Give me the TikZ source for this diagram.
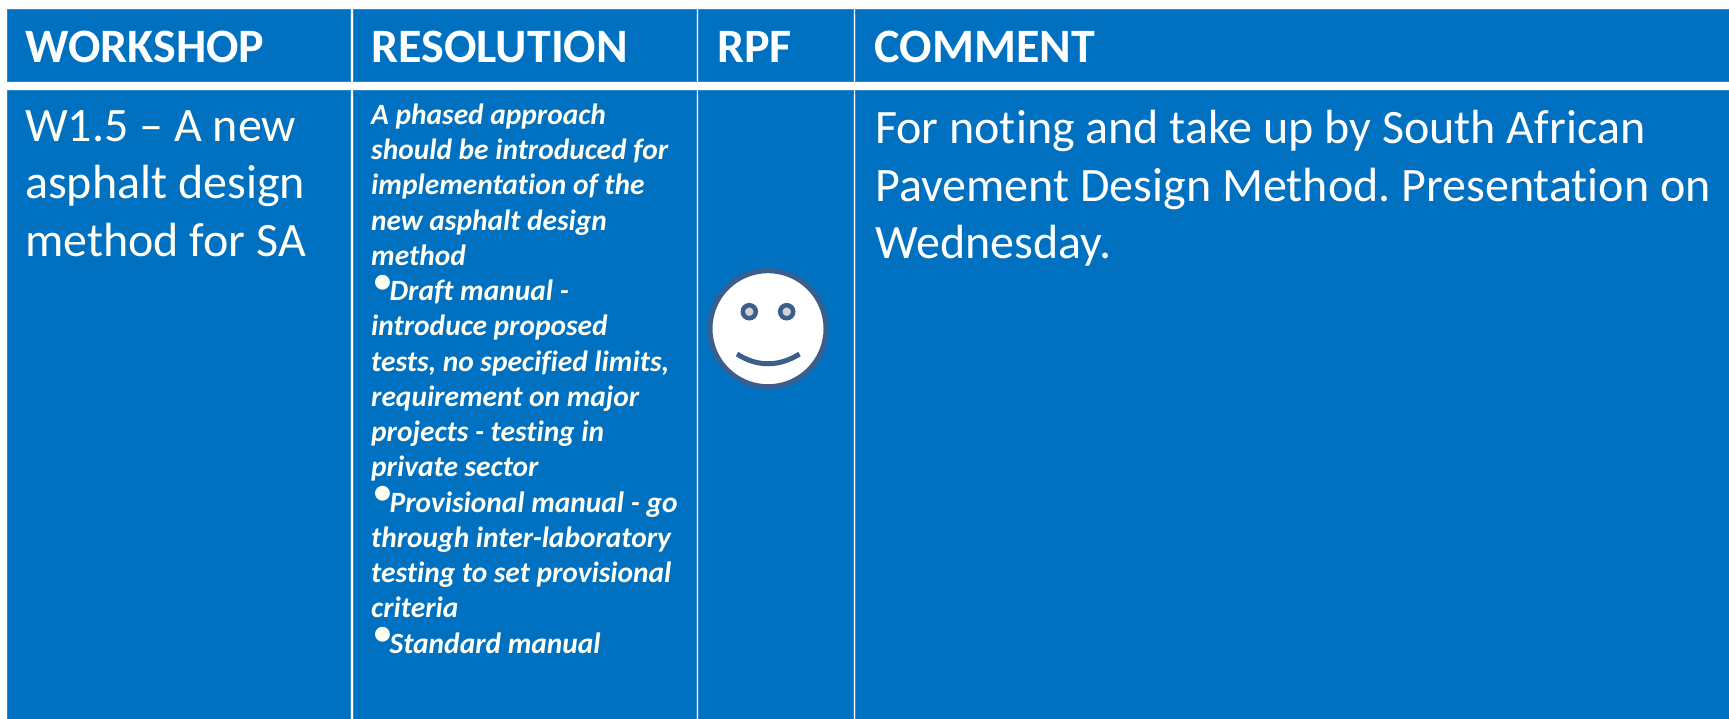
\documentclass[tikz,border=0pt]{standalone}
\usepackage{fontspec}
\setmainfont{Carlito}[Ligatures=CommonOff]
\definecolor{cellblue}{HTML}{0070C0}
\definecolor{celledge}{HTML}{2E88CC}
\definecolor{smile}{HTML}{3B5E8C}
\definecolor{eyegrey}{HTML}{D2D2D2}
\definecolor{cream}{HTML}{FFFFF4}
\newcommand{\bul}{\makebox[18.5pt][l]{\raisebox{6.5pt}{\fontsize{42}{42}\selectfont\upshape\mdseries\kern1pt •}}}
\tikzset{
  cell/.style={draw=celledge,line width=0.6pt,fill=cellblue},
  head/.style={anchor=base west,inner sep=0pt,text=white,font=\fontsize{48}{48}\selectfont\bfseries},
  bodytext/.style={anchor=north west,inner sep=0pt,align=left,font=\frenchspacing\fontsize{48}{57.7}\selectfont},
  restext/.style={anchor=north west,inner sep=0pt,align=left,text=cream,font=\fontsize{29.4}{35.25}\selectfont\bfseries\itshape},
  face/.style={draw=smile,line width=5pt},
}
\begin{document}
\begin{tikzpicture}[x=1pt,y=-1pt]
\useasboundingbox (0,0) rectangle (1729,718);
\fill[white] (0,0) rectangle (1729,718);
% cells
\path[cell] (7,9) rectangle (350.5,81.5);
\path[cell] (353,9) rectangle (696,81.5);
\path[cell] (698.5,9) rectangle (853,81.5);
\path[cell] (855.5,9) rectangle (1732,81.5);
\path[cell] (7,90) rectangle (350.5,722);
\path[cell] (353,90) rectangle (696,722);
\path[cell] (698.5,90) rectangle (853,722);
\path[cell] (855.5,90) rectangle (1732,722);
% headers
\node[head] (hw) at (25,62.5) {WORKSHOP};
\node[head] (hr) at (371.5,62.5) {RESOLUTION};
\node[head] (hp) at (717,62.5) {RPF};
\node[head] (hc) at (874.5,62.5) {COMMENT};
% body
\node[bodytext,text=cream] (bw) at (25,110) {W1.5 – A new\\asphalt design\\method for SA};
\node[bodytext,text=white] (bc) at (875,110) {For noting and take up by South African\\Pavement Design Method. Presentation on\\Wednesday.};
\node[restext] (br) at (371,103.5) {A phased approach\\should be introduced for\\implementation of the\\new asphalt design\\method\\\bul Draft manual -\\introduce proposed\\tests, no specified limits,\\requirement on major\\projects - testing in\\private sector\\\bul Provisional manual - go\\through inter-laboratory\\testing to set provisional\\criteria\\\bul Standard manual};
% smiley
\draw[face,fill=white] (768,328.7) circle (58);
\draw[line width=4.5pt,draw=smile,fill=eyegrey] (749.3,311.7) circle (6.5);
\draw[line width=4.5pt,draw=smile,fill=eyegrey] (786.7,311.7) circle (6.5);
\draw[face,line cap=butt] (737,354) .. controls (757,367) and (779,367) .. (799.5,354);
\end{tikzpicture}
\end{document}
